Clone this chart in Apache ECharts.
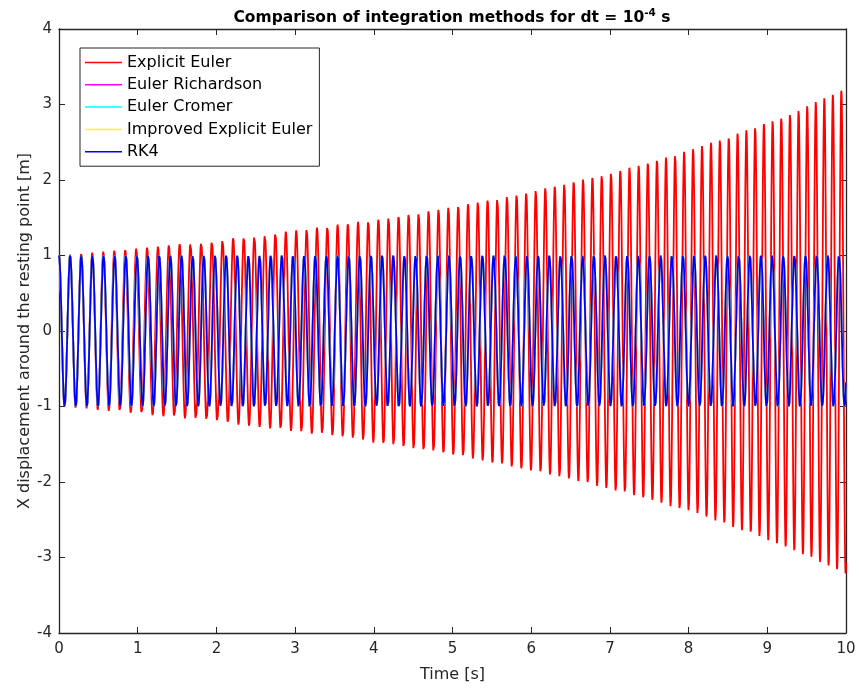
<!DOCTYPE html>
<html>
<head>
<meta charset="utf-8">
<script src="https://cdn.jsdelivr.net/npm/echarts@6/dist/echarts.min.js"></script>
<style>
  html, body { margin: 0; padding: 0; background: #fff; }
  #chart { width: 859px; height: 693px; }
</style>
</head>
<body>
<div id="chart"></div>
<script>
// Simulation settings: time span [s], step [s], initial state [x0 (m), v0 (m/s)]
const timeSpan = [0, 10];
const stepSize = [1e-4];
const initialState = [1, 0];
// Restoring force per unit mass: k1*x + k3*x^3 / (1 + (x/L)^2)   -> [k1, k3, L]
const springCoefficients = [1436.3, 899.3, 1.8];
// Keep every n-th integration step for plotting
const plotStride = [20];

const methodNames = ['Explicit Euler', 'Euler Richardson', 'Euler Cromer', 'Improved Explicit Euler', 'RK4'];
const methodColors = ['#ff0000', '#ff00ff', '#00ffff', '#ffff00', '#0000ff'];
const xTicks = [0, 1, 2, 3, 4, 5, 6, 7, 8, 9, 10];
const yTicks = [-4, -3, -2, -1, 0, 1, 2, 3, 4];

const dt = stepSize[0];
const k1 = springCoefficients[0], k3 = springCoefficients[1], L2 = springCoefficients[2] * springCoefficients[2];
function acc(x) { return -(k1 * x + k3 * x * x * x / (1 + x * x / L2)); }

// One step of each scheme: state [x, v] -> new state
const steppers = {
  'Explicit Euler': function (s) {
    const a = acc(s[0]);
    return [s[0] + dt * s[1], s[1] + dt * a];
  },
  'Euler Richardson': function (s) {
    const a = acc(s[0]);
    const xm = s[0] + 0.5 * dt * s[1];
    const vm = s[1] + 0.5 * dt * a;
    return [s[0] + dt * vm, s[1] + dt * acc(xm)];
  },
  'Euler Cromer': function (s) {
    const v = s[1] + dt * acc(s[0]);
    return [s[0] + dt * v, v];
  },
  'Improved Explicit Euler': function (s) {
    const a1 = acc(s[0]);
    const xp = s[0] + dt * s[1];
    const vp = s[1] + dt * a1;
    return [s[0] + 0.5 * dt * (s[1] + vp), s[1] + 0.5 * dt * (a1 + acc(xp))];
  },
  'RK4': function (s) {
    const x = s[0], v = s[1];
    const k1x = v, k1v = acc(x);
    const k2x = v + 0.5 * dt * k1v, k2v = acc(x + 0.5 * dt * k1x);
    const k3x = v + 0.5 * dt * k2v, k3v = acc(x + 0.5 * dt * k2x);
    const k4x = v + dt * k3v, k4v = acc(x + dt * k3x);
    return [x + dt / 6 * (k1x + 2 * k2x + 2 * k3x + k4x),
            v + dt / 6 * (k1v + 2 * k2v + 2 * k3v + k4v)];
  }
};

function integrate(name) {
  const step = steppers[name];
  const n = Math.round((timeSpan[1] - timeSpan[0]) / dt);
  let s = initialState.slice();
  const out = [[timeSpan[0], s[0]]];
  for (let i = 1; i <= n; i++) {
    s = step(s);
    if (i % plotStride[0] === 0 || i === n) out.push([timeSpan[0] + i * dt, s[0]]);
  }
  return out;
}

const results = methodNames.map(integrate);

const axisColor = '#262626';
const fontFamily = '"DejaVu Sans", sans-serif';

// Plotted in legend order so RK4 ends up on top
const series = methodNames.map(function (name, i) {
  return {
    name: name,
    type: 'line',
    data: results[i],
    showSymbol: false,
    symbol: 'none',
    silent: true,
    animation: false,
    lineStyle: { color: methodColors[i], width: 1.8 },
    itemStyle: { color: methodColors[i] },
    z: 2 + i
  };
});

function makeAxis(pos, withLabels, ticks) {
  return {
    type: 'value',
    position: pos,
    min: ticks[0],
    max: ticks[ticks.length - 1],
    interval: 1,
    splitLine: { show: false },
    axisLine: { show: true, onZero: false, lineStyle: { color: axisColor, width: 1.3 } },
    axisTick: { show: true, inside: true, length: 6, lineStyle: { color: axisColor, width: 1 } },
    axisLabel: { show: withLabels, color: axisColor, fontFamily: fontFamily, fontSize: 15, margin: 8 }
  };
}

const xBottom = makeAxis('bottom', true, xTicks);
xBottom.axisLabel.margin = 9;
xBottom.name = 'Time [s]';
xBottom.nameLocation = 'middle';
xBottom.nameGap = 34;
xBottom.nameMoveOverlap = false;
xBottom.nameTextStyle = { color: axisColor, fontFamily: fontFamily, fontSize: 16 };

const yLeft = makeAxis('left', true, yTicks);
yLeft.axisLabel.margin = 7;
yLeft.name = 'X displacement around the resting point [m]';
yLeft.nameLocation = 'middle';
yLeft.nameGap = 26;
yLeft.nameMoveOverlap = false;
yLeft.nameTextStyle = { color: axisColor, fontFamily: fontFamily, fontSize: 16 };

const chart = echarts.init(document.getElementById('chart'));
chart.setOption({
  animation: false,
  backgroundColor: '#ffffff',
  grid: { left: 59, right: 13, top: 29, bottom: 60 },
  xAxis: [xBottom, makeAxis('top', false, xTicks)],
  yAxis: [yLeft, makeAxis('right', false, yTicks)],
  legend: {
    orient: 'vertical',
    left: 80,
    top: 48,
    data: methodNames,
    icon: 'rect',
    itemWidth: 37,
    itemHeight: 1.5,
    itemGap: 5.3,
    padding: [6, 7, 6, 5],
    backgroundColor: '#ffffff',
    borderColor: axisColor,
    borderWidth: 1,
    borderRadius: 0,
    selectedMode: false,
    textStyle: { color: '#000', fontFamily: fontFamily, fontSize: 16, lineHeight: 17 }
  },
  graphic: [
    {
      type: 'text',
      x: 452,
      y: 17,
      style: {
        text: '{t|Comparison of integration methods for dt = 10}{s|-4}{t| s}',
        align: 'center',
        verticalAlign: 'middle',
        rich: {
          t: { fontFamily: fontFamily, fontWeight: 'bold', fontSize: 15.5, fill: '#000', verticalAlign: 'bottom', lineHeight: 18 },
          s: { fontFamily: fontFamily, fontWeight: 'bold', fontSize: 10.5, fill: '#000', verticalAlign: 'top', lineHeight: 18 }
        }
      }
    }
  ],
  series: series
});
</script>
</body>
</html>
